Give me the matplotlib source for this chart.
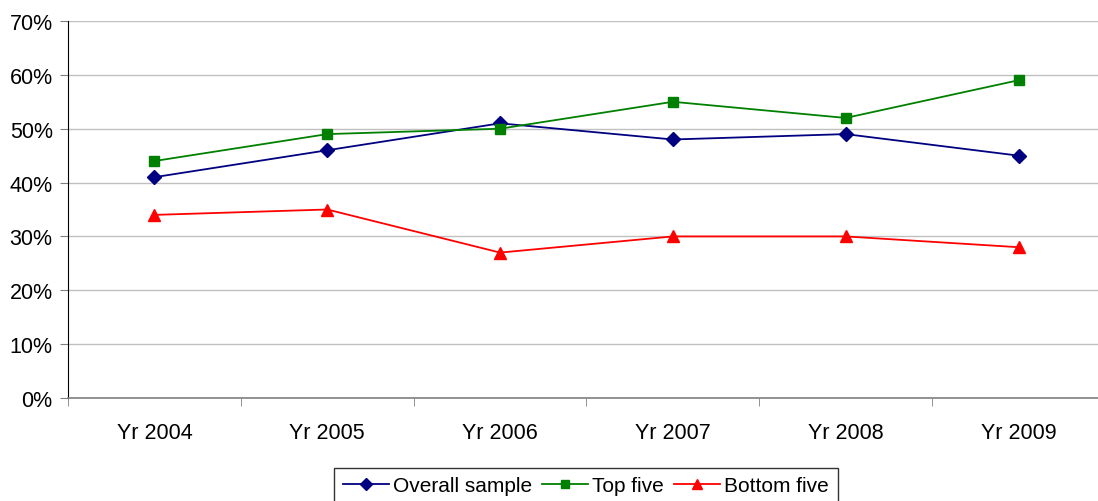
import matplotlib
matplotlib.use("Agg")
import matplotlib.pyplot as plt
from matplotlib.ticker import FixedLocator, PercentFormatter

plt.rcParams["font.family"] = ["Liberation Sans", "DejaVu Sans"]

years = ["Yr 2004", "Yr 2005", "Yr 2006", "Yr 2007", "Yr 2008", "Yr 2009"]
overall = [41, 46, 51, 48, 49, 45]
top_five = [44, 49, 50, 55, 52, 59]
bottom_five = [34, 35, 27, 30, 30, 28]

W, H = 1098, 502
fig = plt.figure(figsize=(W / 100, H / 100), dpi=100)
ax = fig.add_axes([68 / W, (H - 399) / H, (W - 68) / W, 377 / H])

x = range(len(years))
ax.plot(x, overall, color="#000080", marker="D", markersize=7, lw=1.3, label="Overall sample")
ax.plot(x, top_five, color="#008000", marker="s", markersize=7, lw=1.3, label="Top five")
ax.plot(x, bottom_five, color="#ff0000", marker="^", markersize=8, lw=1.3, label="Bottom five")

ax.set_ylim(0, 70)
ax.set_yticks(range(0, 71, 10))
ax.yaxis.set_major_formatter(PercentFormatter(decimals=0))
ax.set_xlim(-0.5, 5.46)
ax.set_xticks(list(x))
ax.set_xticklabels(years)
# category separators sit halfway between the labels
ax.xaxis.set_minor_locator(FixedLocator([i + 0.5 for i in range(-1, 6)]))
ax.tick_params(axis="x", which="major", length=0, pad=17, labelsize=15.5)
ax.tick_params(axis="x", which="minor", length=6, color="#808080")
ax.tick_params(axis="y", length=6, color="#808080", labelsize=15.5, pad=5)

ax.grid(axis="y", color="#c0c0c0", lw=1)
ax.set_axisbelow(True)
for s in ["top", "right"]:
    ax.spines[s].set_visible(False)
ax.spines["left"].set_color("#000000")
ax.spines["bottom"].set_color("#808080")
ax.spines["bottom"].set_linewidth(1.2)

leg = ax.legend(loc="upper center", bbox_to_anchor=(586 / W, 33 / H), bbox_transform=fig.transFigure,
                ncol=3, frameon=True, fancybox=False, edgecolor="#000000", fontsize=15,
                handlelength=2.2, handletextpad=0.2, columnspacing=0.5, borderpad=0.4,
                borderaxespad=0, markerscale=0.85)
leg.get_frame().set_linewidth(1)

fig.savefig("out.png", dpi=100)
